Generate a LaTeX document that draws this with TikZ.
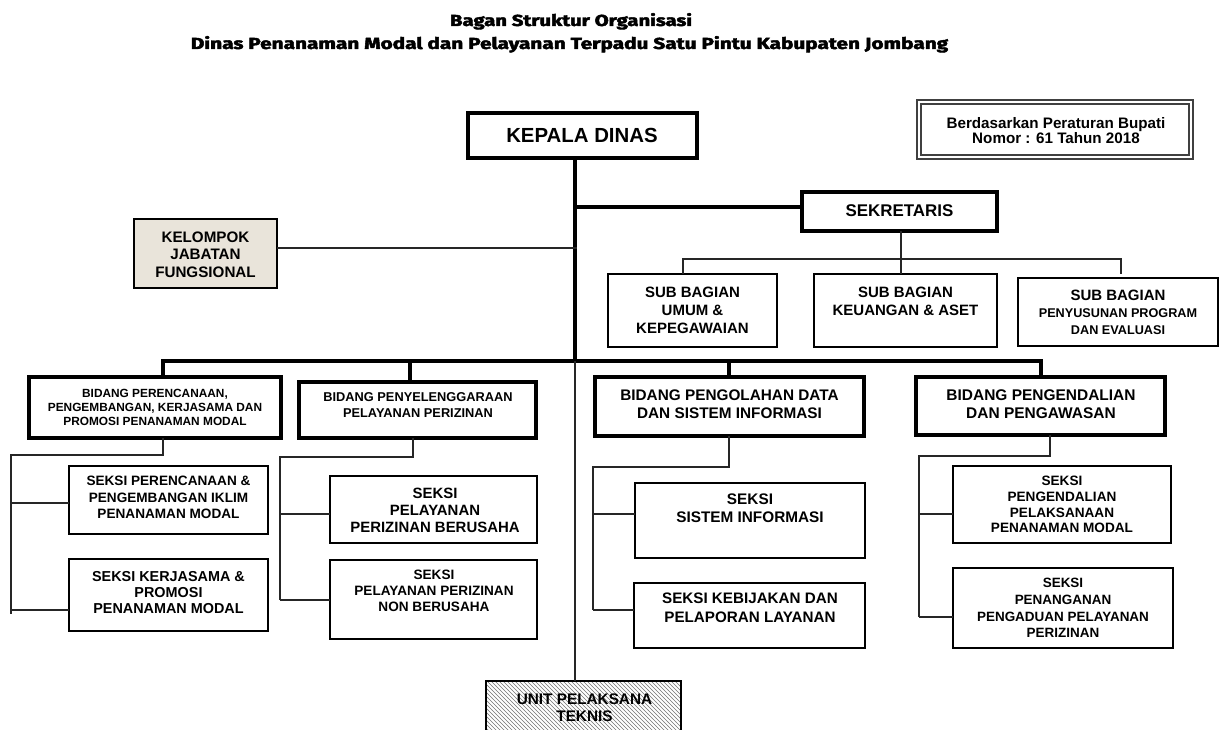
\documentclass[tikz,border=0pt]{standalone}
\usepackage{graphicx}
\usepackage{fontspec}
\setmainfont{Liberation Sans}
\newfontfamily\titlefont[BoldFeatures={FakeBold=2.5}]{Fira Sans}
\usetikzlibrary{patterns,fit}
\definecolor{beige}{RGB}{233,228,218}
\tikzset{
  every node/.style={inner sep=0pt, outer sep=0pt},
  heavybox/.style={draw, line width=3pt},
  lightbox/.style={draw, line width=1.5pt},
  heavyline/.style={line width=2.3pt},
  lightline/.style={line width=1.1pt, draw=black!85},
  lbl/.style n args={2}{align=center, font=\bfseries\fontsize{#1}{#2}\selectfont},
}
\begin{document}
\begin{tikzpicture}[x=0.75pt,y=-0.75pt]
\useasboundingbox (0,0) rectangle (1225,730);

% title
\node[anchor=base] (t1) at (571,26) {\resizebox{181.5pt}{9.7pt}{\titlefont\bfseries Bagan Struktur Organisasi}};
\node[anchor=base] (t2) at (569.5,49) {\resizebox{568pt}{9.7pt}{\titlefont\bfseries Dinas Penanaman Modal dan Pelayanan Terpadu Satu Pintu Kabupaten Jombang}};

% boxes
\node[heavybox, fit={(468,113) (697,158)}] (kd) {};
\node[draw=black!75, double, line width=1.2pt, double distance=1.5pt, fit={(919,102) (1191,157)}] (berd) {};
\node[heavybox, fit={(802,192) (997,231)}] (sek) {};
\node[lightbox, fill=beige, fit={(134,219) (277,288)}] (kjf) {};
\node[lightbox, fit={(608,274) (777,347)}] (sub1) {};
\node[lightbox, fit={(814,274) (997,347)}] (sub2) {};
\node[lightbox, fit={(1018,278) (1218,346)}] (sub3) {};
\node[heavybox, fit={(29,377) (281,438)}] (b1) {};
\node[heavybox, fit={(299,382) (536,438)}] (b2) {};
\node[heavybox, fit={(595,377) (864,436)}] (b3) {};
\node[heavybox, fit={(916,377) (1165,435)}] (b4) {};
\node[lightbox, fit={(69,466) (268,534)}] (ss1) {};
\node[lightbox, fit={(69,559) (268,631)}] (ss2) {};
\node[lightbox, fit={(330,476) (537,543)}] (ss3) {};
\node[lightbox, fit={(330,560) (537,639)}] (ss4) {};
\node[lightbox, fit={(635,483) (865,558)}] (ss5) {};
\node[lightbox, fit={(634,583) (865,648)}] (ss6) {};
\node[lightbox, fit={(953,466) (1171,543)}] (ss7) {};
\node[lightbox, fit={(953,568) (1173,648)}] (ss8) {};
\node[lightbox, pattern=north west lines, pattern color=black!55, fit={(486,681) (681,745)}] (upt) {};

% texts
\node[lbl={15.3}{18}] at (582,135.5) {KEPALA DINAS};
\node[lbl={11.4}{11.4}] at (1056,130.5) {Berdasarkan Peraturan Bupati\\Nomor : 61 Tahun 2018};
\node[lbl={12.7}{15}] at (899.5,211) {SEKRETARIS};
\node[lbl={11.4}{13.1}] at (205.5,254.5) {KELOMPOK\\JABATAN\\FUNGSIONAL};
\node[lbl={11.25}{13.5}] at (692.5,310) {SUB BAGIAN\\UMUM \&\\KEPEGAWAIAN};
\node[lbl={11.25}{13.5}] at (905.5,301) {SUB BAGIAN\\KEUANGAN \& ASET};
\node[lbl={11.25}{13.5}] at (1118,295) {SUB BAGIAN};
\node[lbl={9.5}{13}] at (1118,321.5) {PENYUSUNAN PROGRAM\\DAN EVALUASI};
\node[lbl={8.9}{10.5}] at (155,407) {BIDANG PERENCANAAN,\\PENGEMBANGAN, KERJASAMA DAN\\PROMOSI PENANAMAN MODAL};
\node[lbl={9.6}{12}] at (418,405) {BIDANG PENYELENGGARAAN\\PELAYANAN PERIZINAN};
\node[lbl={11.5}{13.5}] at (729.5,404) {BIDANG PENGOLAHAN DATA\\DAN SISTEM INFORMASI};
\node[lbl={11.6}{13.5}] at (1041,404) {BIDANG PENGENDALIAN\\DAN PENGAWASAN};
\node[lbl={10.2}{12.4}] at (168.5,497.5) {SEKSI PERENCANAAN \&\\PENGEMBANGAN IKLIM\\PENANAMAN MODAL};
\node[lbl={10.8}{12}] at (168.5,593) {SEKSI KERJASAMA \&\\PROMOSI\\PENANAMAN MODAL};
\node[lbl={11.2}{12.75}] at (435,510) {SEKSI\\PELAYANAN\\PERIZINAN BERUSAHA};
\node[lbl={10.2}{12}] at (434,591) {SEKSI\\PELAYANAN PERIZINAN\\NON BERUSAHA};
\node[lbl={11.5}{13.9}] at (750,508) {SEKSI\\SISTEM INFORMASI};
\node[lbl={11.4}{13.9}] at (750,608) {SEKSI KEBIJAKAN DAN\\PELAPORAN LAYANAN};
\node[lbl={10.2}{11.8}] at (1062,504.5) {SEKSI\\PENGENDALIAN\\PELAKSANAAN\\PENANAMAN MODAL};
\node[lbl={10.1}{12.5}] at (1063,608) {SEKSI\\PENANGANAN\\PENGADUAN PELAYANAN\\PERIZINAN};
\node[lbl={11.5}{12.75}] at (584.5,707.5) {UNIT PELAKSANA\\TEKNIS};

% junction coordinates
\coordinate (jbar) at (575,361);
\coordinate (jsek) at (575,207);
\coordinate (jk) at (577,248);
\coordinate (jsub) at (901,259);
\coordinate (jsub1) at (683,259);
\coordinate (jsub3) at (1121,259);
\coordinate (jb1) at (163,361);
\coordinate (jb2) at (410,361);
\coordinate (jb3) at (729,361);
\coordinate (jb4) at (1041,361);
\coordinate (d1) at (163,455);
\coordinate (e1) at (11,614);
\coordinate (f1) at (11,503);
\coordinate (f2) at (11,610);
\coordinate (d2) at (413,457);
\coordinate (e2) at (280,600);
\coordinate (f3) at (280,514);
\coordinate (d3) at (729,467);
\coordinate (e3) at (593,610);
\coordinate (f5) at (593,514);
\coordinate (d4) at (1050,456);
\coordinate (e4) at (919,617);
\coordinate (f7) at (919,514);

% connectors
\draw[heavyline] (kd.south -| jbar) -- (jbar);
\draw[heavyline] (jsek) -- (jsek -| sek.west);
\draw[lightline] (kjf.east |- jk) -- (jk);
\draw[lightline] (sek.south -| jsub) -- (jsub);
\draw[lightline] (jsub1 |- sub1.north) -- (jsub1) -- (jsub3) -- (jsub3 |- sub2.north);
\draw[lightline] (jsub) -- (jsub |- sub2.north);
\draw[heavyline] (jb1 |- b1.north) -- (jb1) -- (jb4) -- (jb4 |- b4.north);
\draw[heavyline] (jb2) -- (jb2 |- b2.north);
\draw[heavyline] (jb3) -- (jb3 |- b3.north);
\draw[lightline] (jbar) -- (jbar |- upt.north);

\draw[lightline] (b1.south -| d1) -- (d1) -| (e1);
\draw[lightline] (f1) -- (f1 -| ss1.west);
\draw[lightline] (f2) -- (f2 -| ss2.west);

\draw[lightline] (b2.south -| d2) -- (d2) -| (e2);
\draw[lightline] (f3) -- (f3 -| ss3.west);
\draw[lightline] (e2) -- (e2 -| ss4.west);

\draw[lightline] (b3.south -| d3) -- (d3) -| (e3);
\draw[lightline] (f5) -- (f5 -| ss5.west);
\draw[lightline] (e3) -- (e3 -| ss6.west);

\draw[lightline] (b4.south -| d4) -- (d4) -| (e4);
\draw[lightline] (f7) -- (f7 -| ss7.west);
\draw[lightline] (e4) -- (e4 -| ss8.west);
\end{tikzpicture}
\end{document}
